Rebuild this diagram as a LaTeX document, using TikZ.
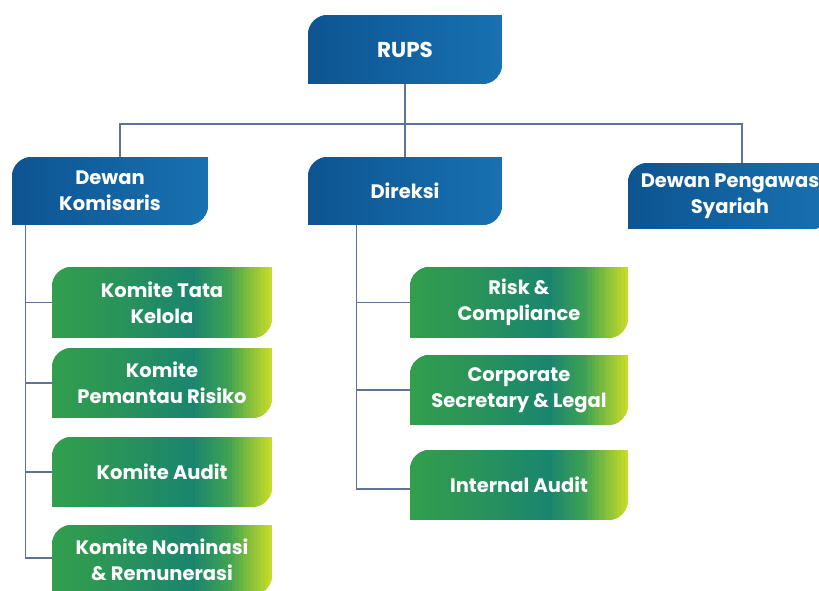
\documentclass[tikz,border=0pt]{standalone}
\usepackage{fontspec}
\setmainfont{Poppins}
\usetikzlibrary{backgrounds,calc}
\definecolor{linec}{RGB}{95,115,150}
\definecolor{b0}{RGB}{13,84,145}
\definecolor{b1}{RGB}{24,113,177}
\definecolor{g0}{RGB}{50,158,76}
\definecolor{g1}{RGB}{41,148,89}
\definecolor{g2}{RGB}{26,133,110}
\definecolor{g3}{RGB}{61,161,84}
\definecolor{g4}{RGB}{133,191,59}
\definecolor{g5}{RGB}{204,222,41}
\newcommand\pickcolor[2]{% #1 = kind (b/g), #2 = fraction
  \ifx#1b%
    \pgfmathsetmacro\mixp{#2*100}\colorlet{stripc}{b1!\mixp!b0}%
  \else
    \ifdim#2pt<0.3pt
      \pgfmathsetmacro\mixp{#2/0.3*100}\colorlet{stripc}{g1!\mixp!g0}%
    \else\ifdim#2pt<0.64pt
      \pgfmathsetmacro\mixp{(#2-0.3)/0.34*100}\colorlet{stripc}{g2!\mixp!g1}%
    \else\ifdim#2pt<0.8pt
      \pgfmathsetmacro\mixp{(#2-0.64)/0.16*100}\colorlet{stripc}{g3!\mixp!g2}%
    \else\ifdim#2pt<0.9pt
      \pgfmathsetmacro\mixp{(#2-0.8)/0.1*100}\colorlet{stripc}{g4!\mixp!g3}%
    \else
      \pgfmathsetmacro\mixp{(#2-0.9)/0.1*100}\colorlet{stripc}{g5!\mixp!g4}%
    \fi\fi\fi\fi
  \fi}
\newcommand\cutshape[2]{%
  \begin{scope}
  \clip (#1.south west)
      -- ([yshift=-20pt]#1.north west)
      arc[start angle=180,end angle=90,radius=20pt]
      -- (#1.north east)
      -- ([yshift=20pt]#1.south east)
      arc[start angle=0,end angle=-90,radius=20pt]
      -- cycle;
  \foreach \i in {0,...,59}{%
    \pgfmathsetmacro\ff{(\i+0.5)/60}%
    \pgfmathsetmacro\fa{\i/60}%
    \pgfmathsetmacro\fb{(\i+1.1)/60}%
    \pickcolor{#2}{\ff}%
    \fill[stripc] ($(#1.south west)!\fa!(#1.south east)$) rectangle ($(#1.north west)!\fb!(#1.north east)$);
  }
  \end{scope}}
\tikzset{
  cutbox/.style={draw=none, inner sep=0pt, align=center, text=white,
    font=\bfseries\fontsize{19.5}{26}\selectfont},
  conn/.style={draw=linec, line width=1.3pt}
}
\begin{document}
\begin{tikzpicture}[x=1pt,y=1pt]
\useasboundingbox (0,0) rectangle (819,-591);
% top level
\node[cutbox, minimum width=194, minimum height=69, font=\bfseries\fontsize{21.5}{26}\selectfont] (rups) at (405,-49.5) {RUPS};
\node[cutbox, minimum width=196, minimum height=68] (dk) at (110,-191) {Dewan\\Komisaris};
\node[cutbox, minimum width=194, minimum height=68] (dir) at (405,-191) {Direksi};
\node[cutbox, minimum width=204, minimum height=66] (dps) at (730,-196) {Dewan Pengawas\\Syariah};
% committees
\node[cutbox, minimum width=220, minimum height=71] (t1) at (162,-302.5) {Komite Tata\\Kelola};
\node[cutbox, minimum width=220, minimum height=70] (t2) at (162,-383) {Komite\\Pemantau Risiko};
\node[cutbox, minimum width=220, minimum height=70] (t3) at (162,-472) {Komite Audit};
\node[cutbox, minimum width=220, minimum height=70] (t4) at (162,-560) {Komite Nominasi\\\& Remunerasi};
\node[cutbox, minimum width=218, minimum height=71] (r1) at (519,-302.5) {Risk \&\\Compliance};
\node[cutbox, minimum width=218, minimum height=70] (r2) at (519,-390) {Corporate\\Secretary \& Legal};
\node[cutbox, minimum width=218, minimum height=70] (r3) at (519,-485) {Internal Audit};
\begin{scope}[on background layer]
\cutshape{rups}{b}
\cutshape{dk}{b}
\cutshape{dir}{b}
\cutshape{dps}{b}
\cutshape{t1}{g}
\cutshape{t2}{g}
\cutshape{t3}{g}
\cutshape{t4}{g}
\cutshape{r1}{g}
\cutshape{r2}{g}
\cutshape{r3}{g}
% connectors
\coordinate (bus) at (405,-124);
\draw[conn] (rups.south) -- (dir.north);
\draw[conn] ([xshift=10pt]dk.north) |- (bus) -| ([xshift=12pt]dps.north);
\coordinate (ls) at ([xshift=14pt]dk.south west);
\draw[conn] (ls) |- (t1.west);
\draw[conn] (ls) |- (t2.west);
\draw[conn] (ls) |- (t3.west);
\draw[conn] (ls) |- ([yshift=2pt]t4.west);
\coordinate (rs) at ([xshift=49pt]dir.south west);
\draw[conn] (rs) |- (r1.west);
\draw[conn] (rs) |- (r2.west);
\draw[conn] (rs) |- ([yshift=-4pt]r3.west);
\end{scope}
\end{tikzpicture}
\end{document}
